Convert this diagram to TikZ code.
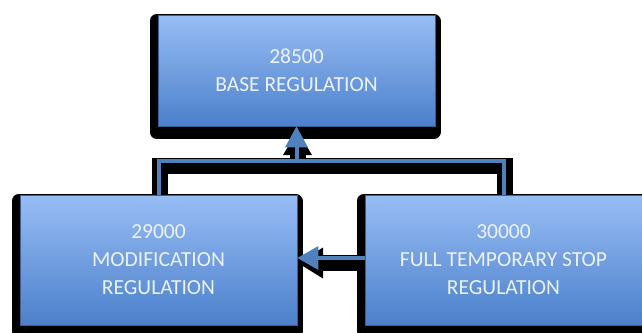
\documentclass[tikz,border=0pt]{standalone}
\usepackage{fontspec}
\setmainfont{Carlito}
\usetikzlibrary{arrows.meta}
\definecolor{boxtop}{RGB}{152,189,245}
\definecolor{boxbot}{RGB}{75,128,203}
\definecolor{wireblue}{RGB}{79,129,189}
\definecolor{boxline}{RGB}{58,95,143}
\definecolor{txt}{RGB}{236,242,252}
\def\sw{16pt}

\begin{document}
\begin{tikzpicture}[x=1pt, y=-1pt,
	regbox/.style={rectangle, minimum width=277pt, minimum height=111pt, inner sep=0, top color=boxtop, bottom color=boxbot, draw=boxline, line width=0.8pt, text=txt, align=center, font=\fontsize{21.5}{28}\selectfont, preaction={fill=black, draw=black, line width=14pt, line join=round, transform canvas={shift={(-1.5pt,-6pt)}}}},
	shadowline/.style={draw=black, line width=\sw, transform canvas={shift={(1pt,-5pt)}}},
	wire/.style={draw=wireblue, line width=4pt}]
		\useasboundingbox (0,0) rectangle (642,332);
		
		\coordinate (bar) at (296.5,161);
		\coordinate (basebot) at (296.5,126);
		\coordinate (modtop) at (158.5,195);
		\coordinate (stoptop) at (503.5,195);
		\coordinate (modright) at (297,258);
		\coordinate (stopleft) at (365,258);
		
		\draw[shadowline] (modtop) |- (bar) -| (stoptop);
		\draw[shadowline, -{Triangle[width=29pt,length=24pt,line width=0pt]}] (bar) -- (basebot);
		\draw[shadowline, -{Triangle[width=31pt,length=25pt,line width=0pt]}] (stopleft) -- (modright);
		
		\node[regbox] (base) at (296.5,70.5) {28500\\BASE REGULATION};
		\node[regbox, minimum height=130pt] (mod) at (158.5,260) {29000\\MODIFICATION\\REGULATION};
		\node[regbox, minimum height=130pt] (stop) at (503.5,260) {30000\\FULL TEMPORARY STOP\\REGULATION};
		
		\draw[wire] (mod.north) |- (bar) -| (stop.north);
		\draw[wire, -{Triangle[width=23pt,length=21pt,line width=0pt]}] (bar) -- (base.south);
		\draw[wire, -{Triangle[width=24pt,length=21pt,line width=0pt]}] (stop.west |- stopleft) -- (mod.east |- modright);
		
	\end{tikzpicture}
\end{document}
